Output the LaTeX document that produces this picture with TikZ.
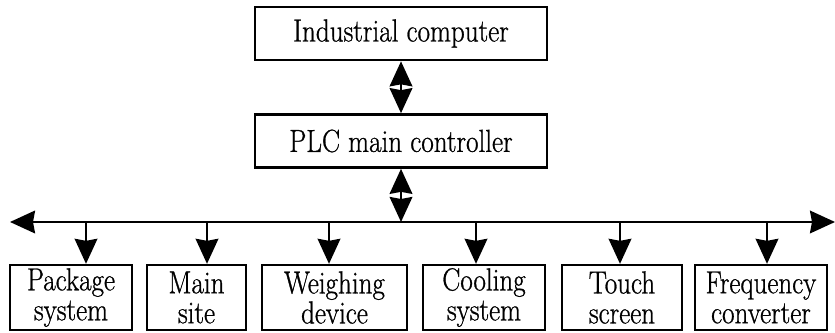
\documentclass[tikz,border=0pt]{standalone}
\usepackage{fontspec}
\newfontfamily\labelfont{Latin Modern Roman}[FakeStretch=0.85, FakeBold=0.8]
\usetikzlibrary{arrows.meta,positioning}

\begin{document}
\begin{tikzpicture}[
    box/.style={rectangle, draw, line width=2pt, inner sep=0pt, align=center,
      font=\labelfont\fontsize{27.2}{25.6}\selectfont},
    bigbox/.style={box, minimum width=8.76cm, minimum height=1.6cm},
    unit/.style={box, minimum height=1.95cm},
    link/.style={line width=2pt, -{Stealth[length=0.75cm, width=0.68cm, inset=0.06cm]}},
    dlink/.style={line width=2pt, {Stealth[length=0.75cm, width=0.68cm, inset=0.06cm]}-{Stealth[length=0.75cm, width=0.68cm, inset=0.06cm]}}
  ]
  \useasboundingbox (0, 0) rectangle (25.05, 9.99);
  % Nodes
  \node (pc) [bigbox] at (12.03, 8.985) {Industrial computer};
  \node (plc) [bigbox] at (12.03, 5.76) {PLC main controller};
  \node (pack) [unit, minimum width=3.66cm] at (2.13, 1.065) {Package\\system};
  \node (site) [unit, minimum width=2.97cm] at (5.895, 1.065) {Main\\site};
  \node (weigh) [unit, minimum width=4.35cm] at (10.035, 1.065) {Weighing\\device};
  \node (cool) [unit, minimum width=3.66cm] at (14.52, 1.065) {Cooling\\system};
  \node (touch) [unit, minimum width=3.6cm] at (18.66, 1.065) {Touch\\screen};
  \node (freq) [unit, minimum width=3.96cm] at (22.83, 1.065) {Frequency\\converter};
  % Bus
  \coordinate (bus-l) at (0.3, 3.33);
  \coordinate (bus-r) at (25.05, 3.33);
  \coordinate (bus-m) at (12.03, 3.33);
  \coordinate (b-0) at (2.58, 3.33);
  \coordinate (b-1) at (6.21, 3.33);
  \coordinate (b-2) at (9.87, 3.33);
  \coordinate (b-3) at (14.28, 3.33);
  \coordinate (b-4) at (18.6, 3.33);
  \coordinate (b-5) at (23.01, 3.33);
  \draw[dlink] (bus-l) -- (bus-r);
  % Arrow
  \draw[dlink] (pc.south) -- (plc.north);
  \draw[dlink] (plc.south) -- (bus-m);
  \draw[link] (b-0) -- (b-0 |- pack.north);
  \draw[link] (b-1) -- (b-1 |- site.north);
  \draw[link] (b-2) -- (b-2 |- weigh.north);
  \draw[link] (b-3) -- (b-3 |- cool.north);
  \draw[link] (b-4) -- (b-4 |- touch.north);
  \draw[link] (b-5) -- (b-5 |- freq.north);
\end{tikzpicture}
\end{document}
